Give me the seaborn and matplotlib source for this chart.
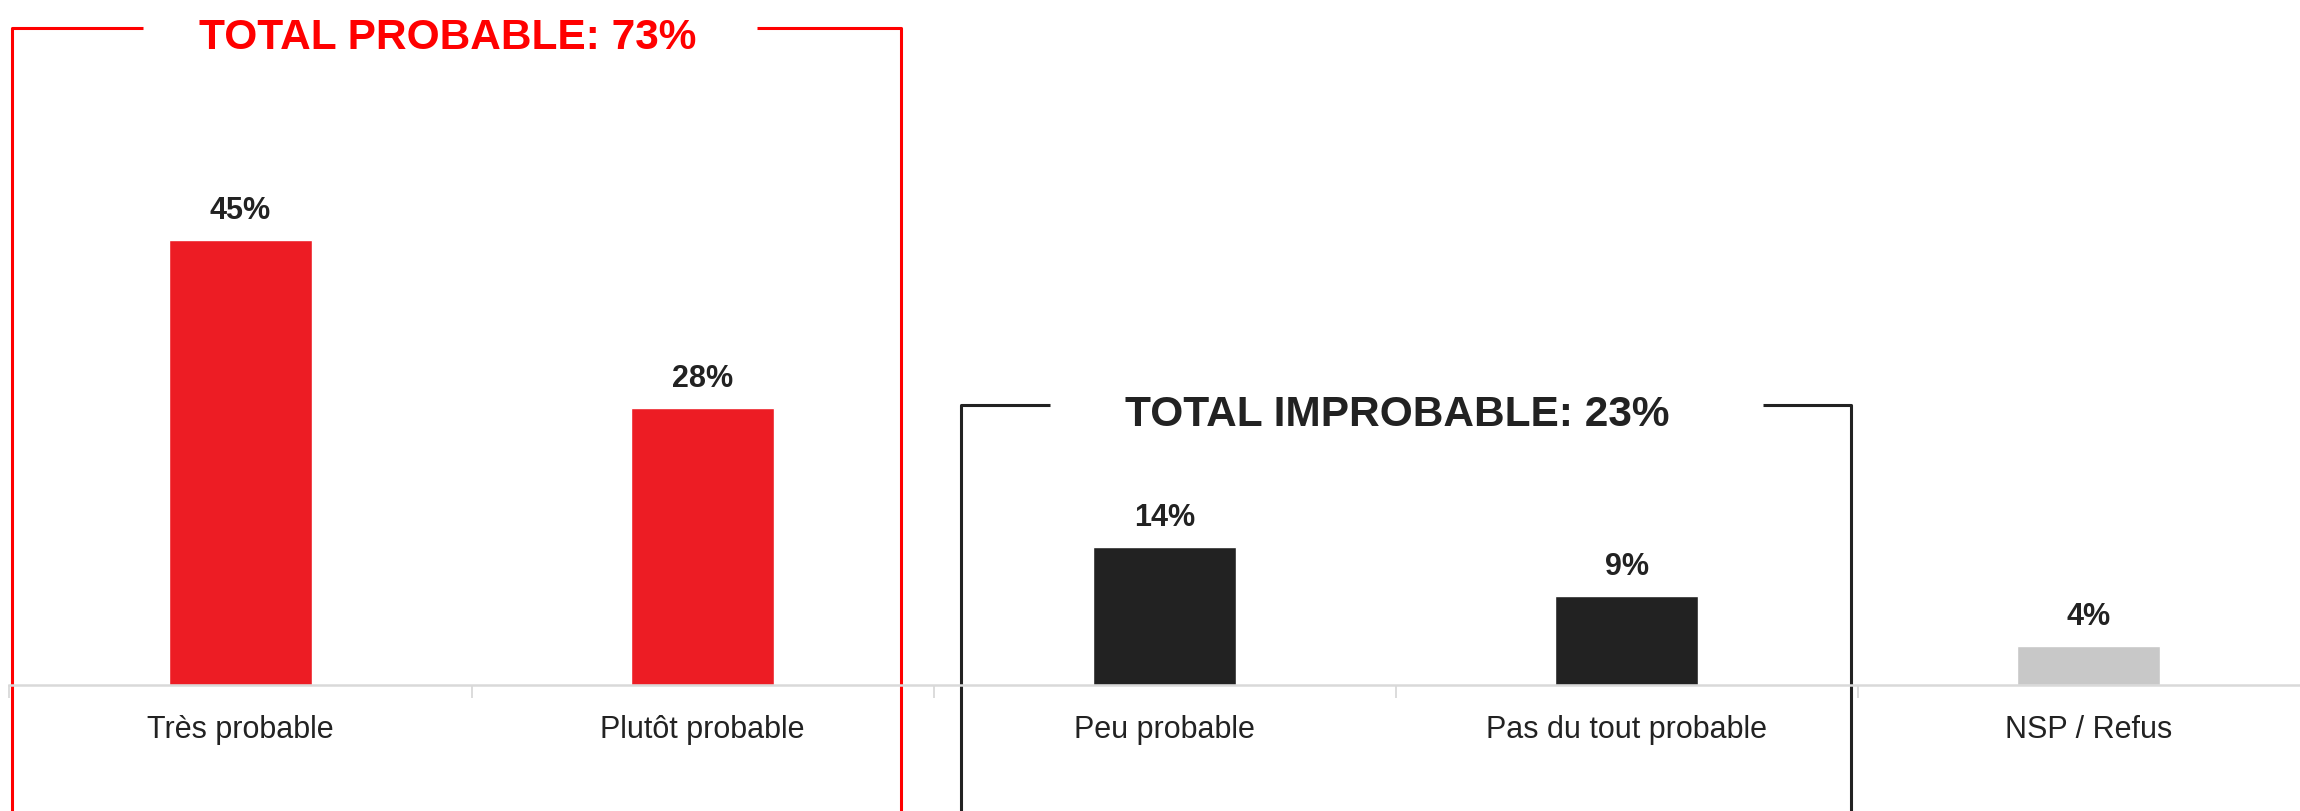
import matplotlib
matplotlib.use("Agg")
import matplotlib.pyplot as plt
import seaborn as sns

categories = ["Très probable", "Plutôt probable", "Peu probable", "Pas du tout probable", "NSP / Refus"]
values = [45, 28, 14, 9, 4]
labels = ["45%", "28%", "14%", "9%", "4%"]
bar_colors = ["#ED1C24", "#ED1C24", "#222222", "#222222", "#C8C8C8"]
group_titles = ["TOTAL PROBABLE: 73%", "TOTAL IMPROBABLE: 23%"]

sns.set_theme(style="white")
plt.rcParams["font.family"] = ["Liberation Sans", "DejaVu Sans"]

fig = plt.figure(figsize=(23, 8.12), dpi=100)
ax = fig.add_axes([0.0041, 0.155, 1.0045, 0.845])

sns.barplot(x=categories, y=values, hue=categories, palette=bar_colors,
            width=0.31, legend=False, saturation=1, ax=ax)

for cont, lab in zip(ax.containers, labels):
    ax.bar_label(cont, labels=[lab], padding=10.5, fontsize=22, fontweight="bold",
                 color="#222222")

ax.set_xlim(-0.5, 4.5)
ax.set_ylim(0, 69.3)
ax.set_xlabel("")
ax.set_ylabel("")
ax.set_yticks([])
for s in ["top", "right", "left"]:
    ax.spines[s].set_visible(False)
ax.spines["bottom"].set_color("#D9D9D9")
ax.spines["bottom"].set_linewidth(1.8)

ax.set_xticks(range(len(categories)))
ax.set_xticklabels(categories, fontsize=22, color="#222222")
ax.tick_params(axis="x", which="major", length=0, pad=21)
ax.set_xticks([i - 0.5 for i in range(len(categories) + 1)], minor=True)
ax.tick_params(axis="x", which="minor", length=9, width=1.3, color="#D9D9D9",
               direction="out", bottom=True)

# bracket boxes around the groups
boxes = [(-0.495, 1.43, 66.4, -0.21, 1.117, "#FF0000"),
         (1.56, 3.485, 28.3, 1.752, 3.295, "#222222")]
for (x0, x1, top, g0, g1, col), title in zip(boxes, group_titles):
    kw = dict(color=col, lw=2.2, clip_on=False, solid_capstyle="butt")
    ax.plot([x0, x0, g0], [-20, top, top], **kw)
    ax.plot([g1, x1, x1], [top, top, -20], **kw)
    ax.text((x0 + x1) / 2 - 0.02, top - 0.9, title, ha="center", va="center",
            fontsize=30.5, fontweight="bold", color=col)

fig.savefig("out.png", dpi=100)
